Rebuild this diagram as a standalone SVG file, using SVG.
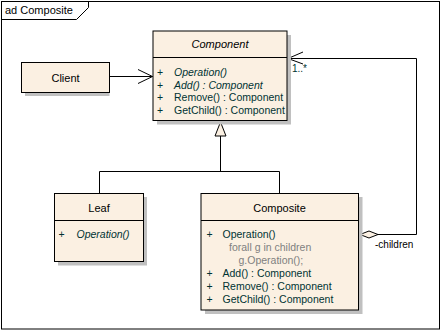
<svg xmlns="http://www.w3.org/2000/svg" width="441" height="331" viewBox="0 0 441 331">
<style>
text{font-family:"Liberation Sans",Arial,sans-serif;font-size:11px}
.box{fill:#FBF0E2;stroke:#000;stroke-width:1}
.sh{fill:#c0c0c0}
.t{fill:#000;text-anchor:middle}
.m{fill:#003333;font-size:10.5px}
.i{font-style:italic}
.g{fill:#808080;font-size:10.5px}
.ln{fill:none;stroke:#000;stroke-width:1}
</style>
<rect width="441" height="331" fill="#fff"/>
<g id="frame">
<rect x="1.5" y="1.5" width="438" height="327.5" class="ln"/>
<polyline points="1.5,19.5 76.5,19.5 88.5,7.5 88.5,1.5" class="ln"/>
<text x="5" y="14">ad Composite</text>
</g>
<g id="connectors">
<line x1="109" y1="76.5" x2="152.5" y2="76.5" class="ln"/>
<polyline points="138,69.5 152.5,76.5 138,83.5" class="ln"/>
<polyline points="360,234.5 416.5,234.5 416.5,58.5 287,58.5" class="ln"/>
<polyline points="303,52 288,58.5 303,64" class="ln"/>
<polygon points="360,234.5 369,231 378,234.5 369,238" class="box"/>
<polyline points="99.5,193 99.5,171.5 279.5,171.5 279.5,193" class="ln"/>
<line x1="220.5" y1="171.5" x2="220.5" y2="136" class="ln"/>
<polygon points="220.5,122 215,136 226,136" class="box"/>
<text x="292" y="72" class="m" style="font-size:10px">1..*</text>
<text x="375" y="248" style="font-size:10px">-children</text>
</g>
<g id="Client">
<rect x="25" y="66" width="84.5" height="30" class="sh"/>
<rect x="21.5" y="62.5" width="88" height="30" class="box"/>
<text x="65.5" y="81.5" class="t">Client</text>
</g>
<g id="Component">
<rect x="157" y="35" width="134" height="89.5" class="sh"/>
<rect x="153" y="31" width="134" height="89.5" class="box"/>
<line x1="153" y1="57.5" x2="287" y2="57.5" class="ln"/>
<text x="220" y="48" class="t i">Component</text>
<text x="157" y="76" class="m">+</text>
<text x="174" y="76" class="m i">Operation()</text>
<text x="157" y="88.5" class="m">+</text>
<text x="174" y="88.5" class="m i">Add() : Component</text>
<text x="157" y="101" class="m">+</text>
<text x="174" y="101" class="m">Remove() : Component</text>
<text x="157" y="113.5" class="m">+</text>
<text x="174" y="113.5" class="m">GetChild() : Component</text>
</g>
<g id="Leaf">
<rect x="58" y="197" width="89" height="68.5" class="sh"/>
<rect x="54.5" y="193.5" width="89" height="68" class="box"/>
<line x1="54.5" y1="220.5" x2="143.5" y2="220.5" class="ln"/>
<text x="99" y="212" class="t">Leaf</text>
<text x="58.5" y="237.5" class="m">+</text>
<text x="76.5" y="237.5" class="m i">Operation()</text>
</g>
<g id="Composite">
<rect x="205" y="197" width="157.5" height="117" class="sh"/>
<rect x="201" y="193.5" width="157.5" height="116.5" class="box"/>
<line x1="201" y1="220.5" x2="358.5" y2="220.5" class="ln"/>
<text x="279.5" y="212" class="t">Composite</text>
<text x="206.5" y="237.5" class="m">+</text>
<text x="222.5" y="237.5" class="m">Operation()</text>
<text x="229" y="251" class="g">forall g in children</text>
<text x="238.5" y="264" class="g">g.Operation();</text>
<text x="206.5" y="277" class="m">+</text>
<text x="222.5" y="277" class="m">Add() : Component</text>
<text x="206.5" y="290" class="m">+</text>
<text x="222.5" y="290" class="m">Remove() : Component</text>
<text x="206.5" y="303" class="m">+</text>
<text x="222.5" y="303" class="m">GetChild() : Component</text>
</g>
</svg>
